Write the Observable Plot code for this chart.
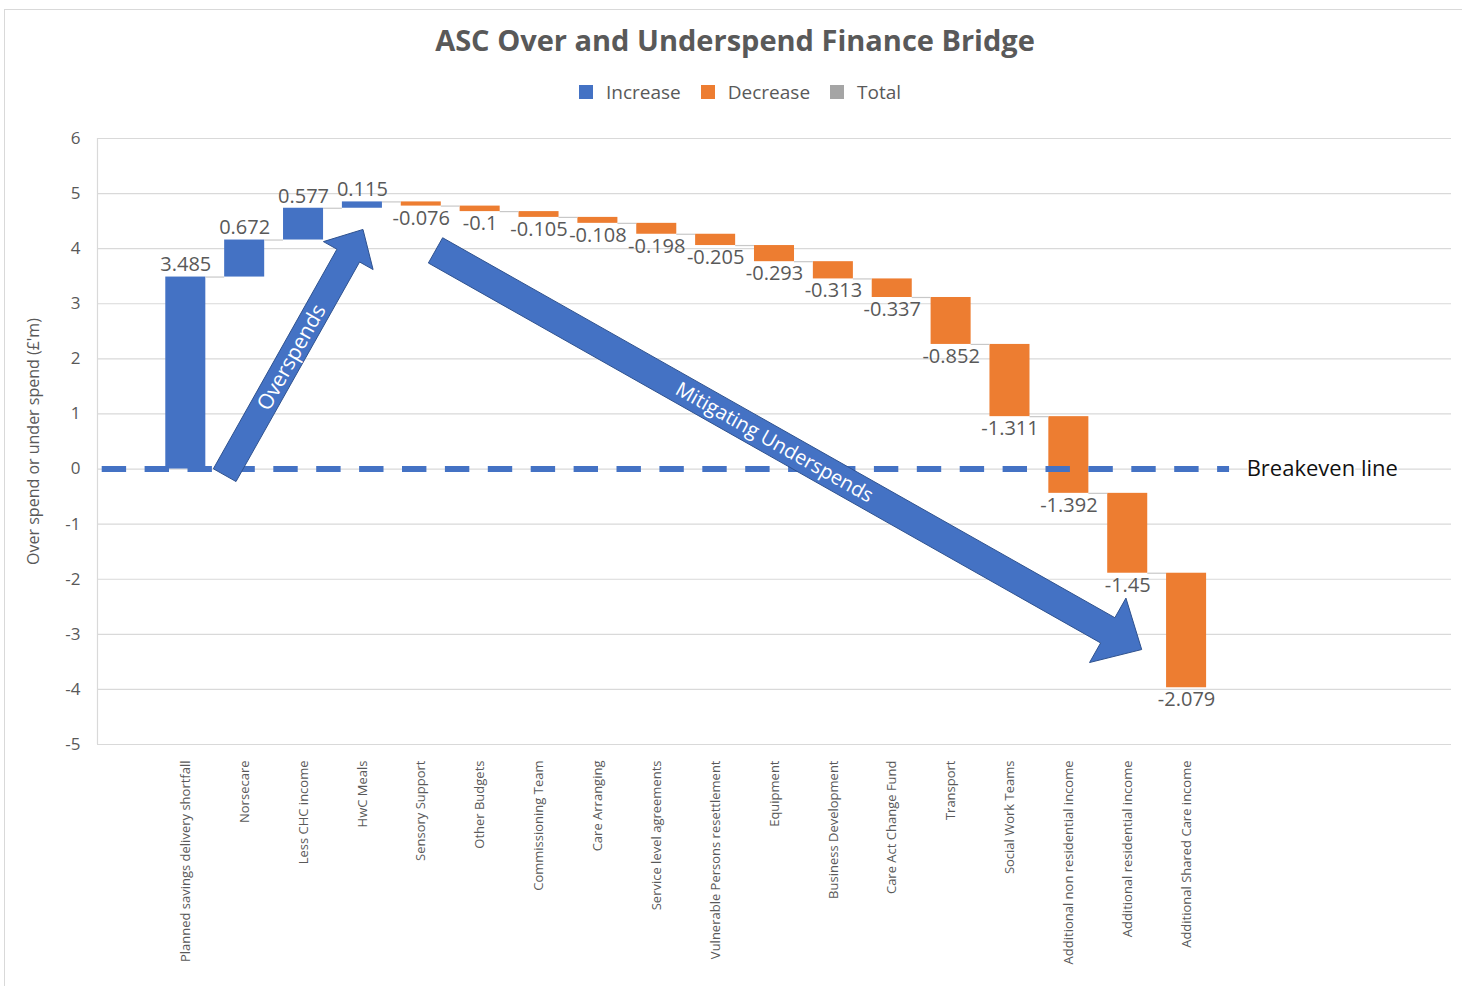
<!DOCTYPE html>
<html>
<head>
<meta charset="utf-8">
<script src="https://cdn.jsdelivr.net/npm/d3@7"></script>
<script src="https://cdn.jsdelivr.net/npm/@observablehq/plot@0.6"></script>
<style>
  html, body { margin: 0; padding: 0; background: #fff; }
  body { width: 1462px; height: 986px; overflow: hidden; position: relative; font-family: "Open Sans", sans-serif; }
  #frame { position: absolute; left: 4px; top: 9px; width: 1470px; height: 1000px; border: 1px solid #d9d9d9; }
  #title { position: absolute; left: 0; top: 10px; width: 1460px; height: 40px; line-height: 40px; text-align: center;
           font-weight: bold; font-size: 29px; color: #595959; }
  #legend { position: absolute; left: 574px; top: 72px; height: 20px; display: flex; align-items: center;
            font-size: 19px; color: #595959; }
  .item { display: flex; align-items: center; margin-right: 20px; }
  .sw { width: 14px; height: 14px; margin-right: 13px; }
  #chart { position: absolute; left: 0; top: 100px; }
</style>
</head>
<body>
<div id="frame">
  <div id="title">ASC Over and Underspend Finance Bridge</div>
  <div id="legend"></div>
  <div id="chart"></div>
</div>
<script>
// ---- data ----
const categories = [
  "Planned savings delivery shortfall",
  "Norsecare",
  "Less CHC income",
  "HwC Meals",
  "Sensory Support",
  "Other Budgets",
  "Commissioning Team",
  "Care Arranging",
  "Service level agreements",
  "Vulnerable Persons resettlement",
  "Equipment",
  "Business Development",
  "Care Act Change Fund",
  "Transport",
  "Social Work Teams",
  "Additional non residential income",
  "Additional residential income",
  "Additional Shared Care income"
];
const values = [3.485, 0.672, 0.577, 0.115, -0.076, -0.1, -0.105, -0.108, -0.198, -0.205,
                -0.293, -0.313, -0.337, -0.852, -1.311, -1.392, -1.45, -2.079];
const yTicks = [-5, -4, -3, -2, -1, 0, 1, 2, 3, 4, 5, 6];
const legendLabels = ["Increase", "Decrease", "Total"];
const legendColors = ["#4472C4", "#ED7D31", "#A5A5A5"];
const yLabel = "Over spend or under spend (£'m)";
// annotations (in data units: category slot, £m)
const breakeven = [{y: 0, from: -0.42, to: 18.73, labelAt: 19.02, label: "Breakeven line"}];
const arrowNotes = [
  {label: "Overspends", x1: 1.669, y1: -0.12, x2: 4.018, y2: 4.34},
  {label: "Mitigating Underspends", x1: 5.25, y1: 3.96, x2: 17.246, y2: -3.285}
];

// ---- waterfall table ----
let run = 0;
const steps = categories.map((name, k) => {
  const start = run;
  run += values[k];
  return {i: k + 1, name, value: values[k], start, end: run,
          type: values[k] >= 0 ? "Increase" : "Decrease"};
});

// ---- legend ----
const lg = document.getElementById("legend");
legendLabels.forEach((l, k) => {
  const it = document.createElement("div");
  it.className = "item";
  it.innerHTML = `<div class="sw" style="background:${legendColors[k]}"></div><span>${l}</span>`;
  lg.appendChild(it);
});

const arrowStyles = [
  {shaft: 26, head: 57, headLength: 30, fontSize: 21},
  {shaft: 29, head: 74, headLength: 39, fontSize: 20}
];

function arrowsMark(index, scales) {
  const g = d3.create("svg:g");
  arrowNotes.forEach((a, k) => {
    const s = arrowStyles[k];
    const x0 = scales.x(a.x1), y0 = scales.y(a.y1), x1 = scales.x(a.x2), y1 = scales.y(a.y2);
    const dx = x1 - x0, dy = y1 - y0, len = Math.hypot(dx, dy);
    const ux = dx / len, uy = dy / len, nx = -uy, ny = ux;
    const w = s.shaft / 2, h = s.head / 2;
    const bx = x1 - ux * s.headLength, by = y1 - uy * s.headLength;
    const pts = [
      [x0 + nx * w, y0 + ny * w], [bx + nx * w, by + ny * w], [bx + nx * h, by + ny * h],
      [x1, y1], [bx - nx * h, by - ny * h], [bx - nx * w, by - ny * w], [x0 - nx * w, y0 - ny * w]
    ];
    g.append("polygon")
      .attr("points", pts.map(p => p.join(",")).join(" "))
      .attr("fill", "#4472C4").attr("stroke", "#2F528F").attr("stroke-width", 1);
    const mx = x0 + dx * 0.48, my = y0 + dy * 0.48;
    const ang = Math.atan2(dy, dx) * 180 / Math.PI;
    g.append("text")
      .attr("transform", `translate(${mx},${my}) rotate(${ang})`)
      .attr("text-anchor", "middle").attr("dy", "0.35em")
      .attr("fill", "white").attr("font-size", s.fontSize).attr("font-family", "Open Sans")
      .text(a.label);
  });
  return g.node();
}

const chart = Plot.plot({
  width: 1456,
  height: 876,
  marginTop: 28,
  marginBottom: 242,
  marginLeft: 92,
  marginRight: 10,
  style: {fontFamily: "Open Sans", background: "transparent", overflow: "visible"},
  x: {type: "linear", domain: [-0.5, 22.5]},
  y: {domain: [-5, 6]},
  color: {domain: legendLabels, range: legendColors},
  marks: [
    Plot.gridY(yTicks, {stroke: "#d9d9d9", strokeOpacity: 1, strokeWidth: 1.2}),
    Plot.ruleX([-0.5], {stroke: "#d9d9d9", strokeWidth: 1.2}),
    Plot.axisY(yTicks, {tickSize: 0, tickPadding: 17, fontSize: 17, fill: "#595959",
                        tickFormat: d => String(d), label: null}),
    Plot.axisX(steps.map(d => d.i), {tickSize: 0, tickPadding: 16, tickRotate: -90, fontSize: 13,
                        fill: "#595959", tickFormat: i => categories[i - 1], label: null}),
    Plot.text([yLabel], {frameAnchor: "left", dx: -64, rotate: -90, textAnchor: "middle",
                         fontSize: 16, fill: "#595959"}),
    Plot.rectY(steps, {x1: d => d.i - 0.34, x2: d => d.i + 0.34, y1: "start", y2: "end", fill: "type"}),
    Plot.ruleY(steps.slice(0, -1), {y: "end", x1: d => d.i + 0.34, x2: d => d.i + 0.66,
                                    stroke: "#c8c8c8", strokeWidth: 1.2}),
    Plot.text(steps.filter(d => d.value >= 0), {x: "i", y: "end", text: d => String(d.value),
                         dy: -12, fontSize: 20, fill: "#595959"}),
    Plot.text(steps.filter(d => d.value < 0), {x: "i", y: "end", text: d => String(d.value),
                         dy: 12, fontSize: 20, fill: "#595959"}),
    Plot.ruleY(breakeven, {y: "y", x1: "from", x2: "to", stroke: "#4472C4", strokeWidth: 6,
                           strokeDasharray: "24.4,18.5"}),
    Plot.text(breakeven, {x: "labelAt", y: "y", text: "label", textAnchor: "start",
                          fontSize: 22, fill: "#111", stroke: "white", strokeWidth: 3, paintOrder: "stroke"}),
    arrowsMark
  ]
});
document.getElementById("chart").appendChild(chart);
</script>
</body>
</html>
